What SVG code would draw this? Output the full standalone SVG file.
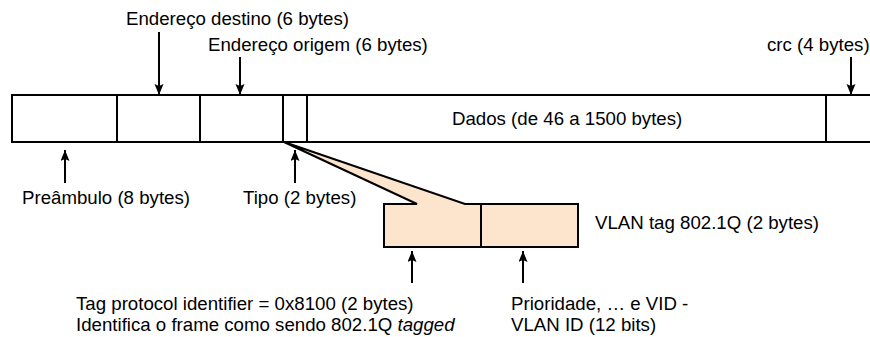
<svg xmlns="http://www.w3.org/2000/svg" width="870" height="337" viewBox="0 0 870 337">
<defs>
<style>
text{font-family:"Liberation Sans",Arial,sans-serif;font-size:18.67px;fill:#000}
.box{fill:#fff;stroke:#000;stroke-width:2}
.tag{fill:#fce4cd;stroke:#000;stroke-width:2;stroke-linejoin:miter}
.arr{stroke:#000;stroke-width:2;fill:none;marker-end:url(#ah)}
</style>
<marker id="ah" markerUnits="userSpaceOnUse" markerWidth="12" markerHeight="10" refX="11" refY="4.5" orient="auto">
<path d="M0,0 L11,4.5 L0,9 L2,4.5 Z" fill="#000"/>
</marker>
</defs>
<rect width="870" height="337" fill="#fff"/>
<g id="frame">
<g id="preambulo"><rect class="box" x="12" y="95" width="105" height="47"/></g>
<g id="destino"><rect class="box" x="117" y="95" width="83" height="47"/></g>
<g id="origem"><rect class="box" x="200" y="95" width="83" height="47"/></g>
<g id="tipo"><rect class="box" x="283" y="95" width="24" height="47"/></g>
<g id="dados"><rect class="box" x="307" y="95" width="519" height="47"/><text x="452" y="125">Dados (de 46 a 1500 bytes)</text></g>
<g id="crc"><rect class="box" x="826" y="95" width="60" height="47"/></g>
</g>
<g id="vlan">
<g id="callout"><path class="tag" d="M284,142 L417,204 L384,204 L384,247 L578,247 L578,204 L465,204 Z"/></g>
<g id="tpid"><line x1="481" y1="204" x2="481" y2="247" stroke="#000" stroke-width="2"/></g>
<g id="vlan-label"><text x="595" y="229">VLAN tag 802.1Q (2 bytes)</text></g>
</g>
<g id="labels">
<text x="126" y="25">Endereço destino (6 bytes)</text>
<text x="208" y="51">Endereço origem (6 bytes)</text>
<text x="767" y="51">crc (4 bytes)</text>
<text x="22" y="204">Preâmbulo (8 bytes)</text>
<text x="243" y="204">Tipo (2 bytes)</text>
<text x="76" y="310">Tag protocol identifier = 0x8100 (2 bytes)</text>
<text x="76" y="331">Identifica o frame como sendo 802.1Q <tspan font-style="italic">tagged</tspan></text>
<text x="511" y="310">Prioridade, … e VID -</text>
<text x="511" y="331">VLAN ID (12 bits)</text>
</g>
<g id="connectors">
<line class="arr" x1="159" y1="32" x2="159" y2="95"/>
<line class="arr" x1="240" y1="57" x2="240" y2="95"/>
<line class="arr" x1="851" y1="57" x2="851" y2="95"/>
<line class="arr" x1="65" y1="183" x2="65" y2="150"/>
<line class="arr" x1="295" y1="183" x2="295" y2="150"/>
<line class="arr" x1="412" y1="283" x2="412" y2="251"/>
<line class="arr" x1="523" y1="283" x2="523" y2="251"/>
</g>
</svg>
